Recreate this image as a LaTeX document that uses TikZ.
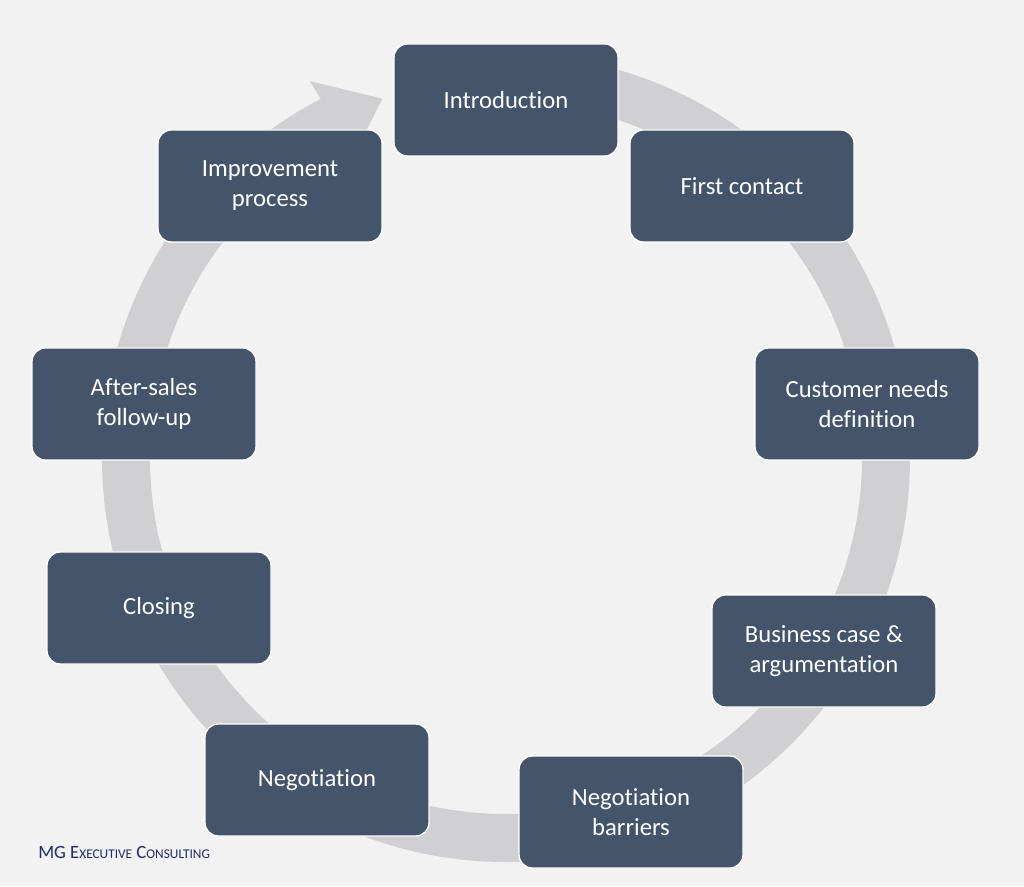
\documentclass[tikz,border=0pt]{standalone}
\usepackage{fontspec}
\setmainfont{Carlito}[Ligatures=NoCommon]
\usetikzlibrary{positioning,calc}
\definecolor{boxblue}{HTML}{44546A}
\definecolor{ringgrey}{HTML}{D0D0D3}
\definecolor{bggrey}{HTML}{F2F2F2}
\definecolor{logoblue}{HTML}{1F2A6B}
\begin{document}
\begin{tikzpicture}[x=0.75pt,y=0.75pt,
  phase/.style={rectangle, rounded corners=10pt, draw=white, line width=1pt, fill=boxblue,
    minimum width=168pt, minimum height=84pt, align=center,
    text=white, font=\fontsize{18.5}{22.5}\selectfont},
  ring/.style={draw=ringgrey, line width=36pt}
]
\useasboundingbox[fill=bggrey] (0,0) rectangle (1024,886);

% Ring with arrow
\coordinate (c) at (506,428);
\draw[ring] (c) ++(90:380) arc (90:-245:380);
\fill[ringgrey] ($(c)+(117:380)$) -- ($(c)+(117.5:425)$) -- ($(c)+(109:380)$) -- ($(c)+(117.5:335)$) -- cycle;

% Phases
\node[phase] (intro) at (506,786) {Introduction};
\node[phase] (contact) at (742,700) {First contact};
\node[phase] (needs) at (867,482) {Customer needs\\definition};
\node[phase] (business) at (824,235) {Business case \&\\argumentation};
\node[phase] (barriers) at (631,74) {Negotiation\\barriers};
\node[phase] (negotiation) at (317,106) {Negotiation};
\node[phase] (closing) at (159,278) {Closing};
\node[phase] (aftersales) at (144,482) {After-sales\\follow-up};
\node[phase] (improve) at (270,700) {Improvement\\process};

% Logo
\node[anchor=west, text=logoblue, font=\fontsize{14}{15}\selectfont, inner sep=0pt] (logo) at (38,33)
  {MG E{\fontsize{10}{11}\selectfont XECUTIVE} C{\fontsize{10}{11}\selectfont ONSULTING}};
\end{tikzpicture}
\end{document}
